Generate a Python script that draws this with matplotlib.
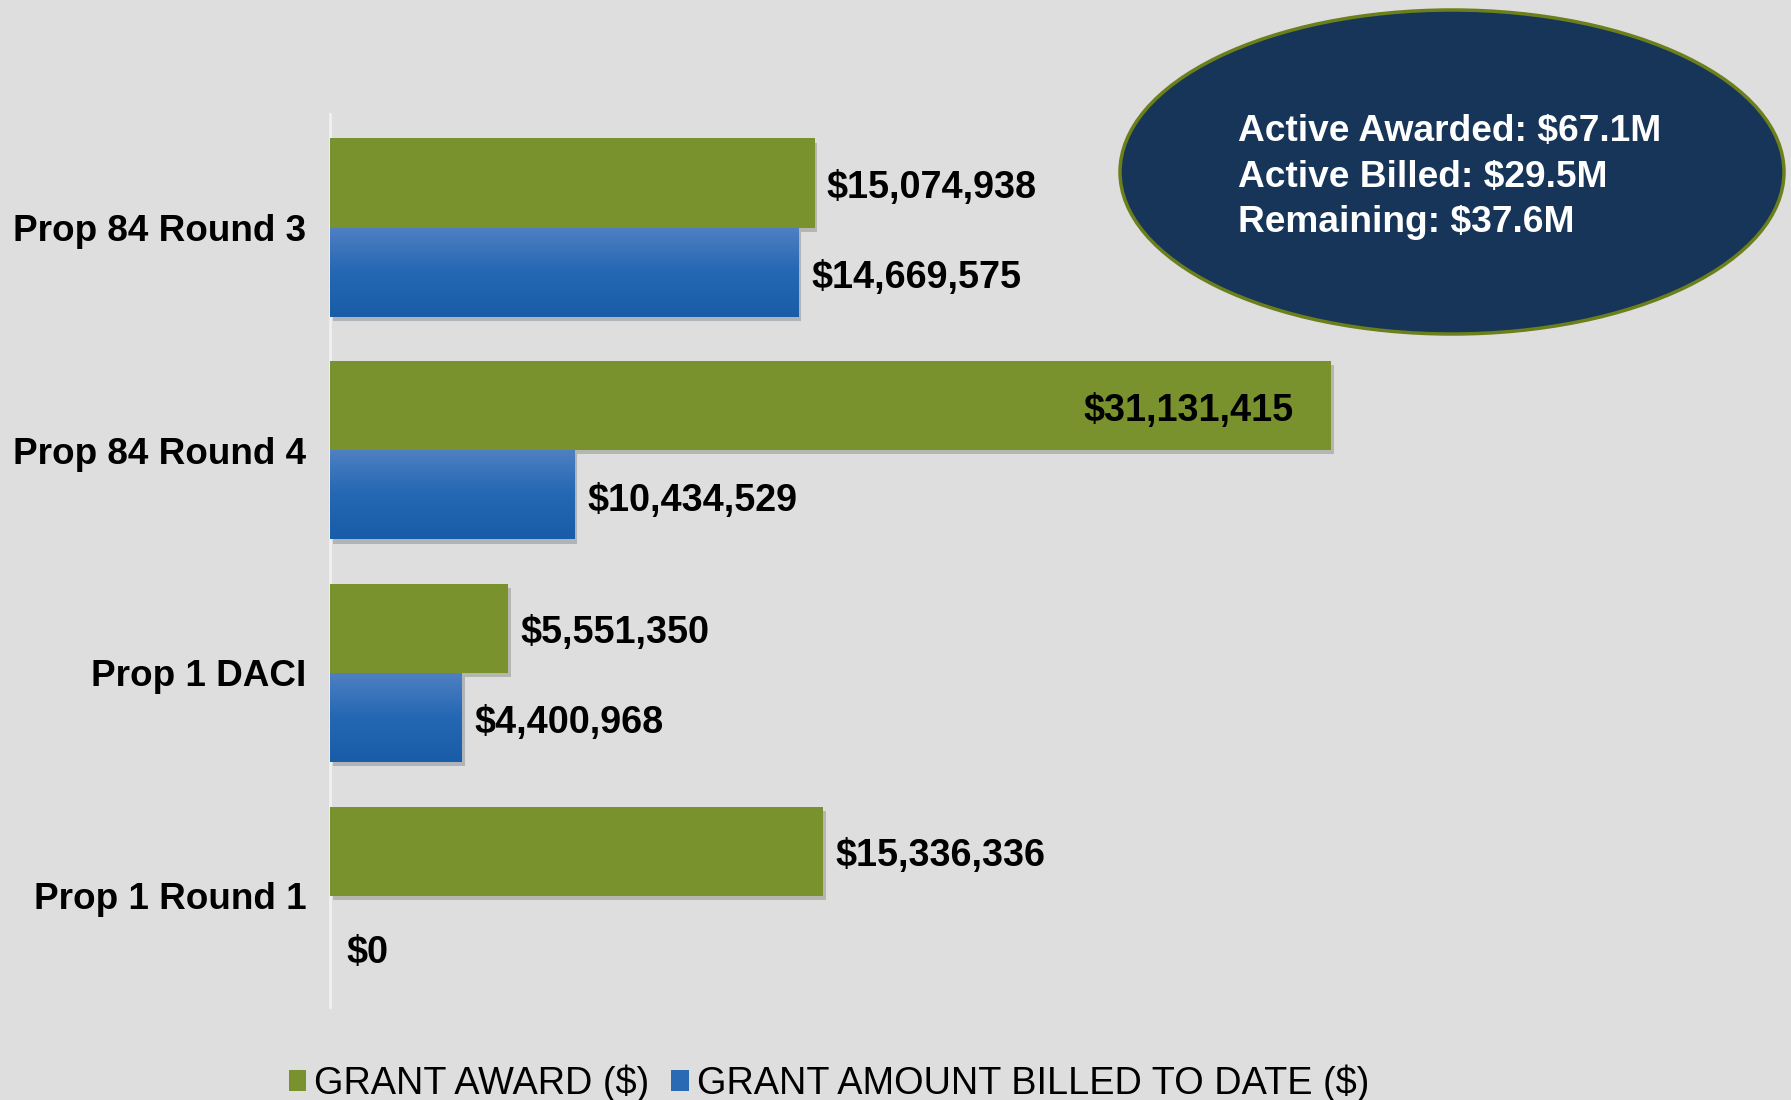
import matplotlib
matplotlib.use("Agg")
import matplotlib.pyplot as plt
import numpy as np
from matplotlib.patches import Ellipse, Patch
import matplotlib.patheffects as pe

plt.rcParams['font.family'] = ['Liberation Sans', 'DejaVu Sans']

# Data
categories = ["Prop 1 Round 1", "Prop 1 DACI", "Prop 84 Round 4", "Prop 84 Round 3"]
grant_award = [15336336, 5551350, 31131415, 15074938]
billed_labels = [0, 4400968, 10434529, 14669575]
# billed bar lengths as drawn in the picture (they don't match the labels exactly)
billed_bars = [0, 4.10e6, 7.59e6, 14.56e6]
legend_labels = ["GRANT AWARD ($)", "GRANT AMOUNT BILLED TO DATE ($)"]
summary = ["Active Awarded: $67.1M", "Active Billed: $29.5M", "Remaining: $37.6M"]

bg = "#dedede"
green = "#7a922d"
blue = "#2266b3"

fig = plt.figure(figsize=(17.91, 11), dpi=100, facecolor=bg)
ax = fig.add_axes([330 / 1791, 1 - 1007 / 1100, 1 - 330 / 1791, 893 / 1100])
ax.set_facecolor(bg)

y = np.arange(len(categories))
h = 0.4
shadow = [pe.SimplePatchShadow(offset=(2, -3), alpha=0.22), pe.Normal()]

gbars = ax.barh(y + h / 2, grant_award, height=h, color=green, zorder=3)
bbars = ax.barh(y - h / 2, billed_bars, height=h, color=blue, zorder=3)
for b in list(gbars) + list(bbars):
    b.set_path_effects(shadow)

# gradient on the blue bars
grad = np.linspace(0, 1, 100).reshape(-1, 1)
cmap = matplotlib.colors.LinearSegmentedColormap.from_list("b", ["#4f80c3", "#2467b3", "#195ca8"])
for b in bbars:
    if b.get_width() <= 0:
        continue
    im = ax.imshow(grad, cmap=cmap, aspect="auto", zorder=4,
                   extent=[b.get_x(), b.get_x() + b.get_width(), b.get_y(), b.get_y() + b.get_height()],
                   origin="upper")
    im.set_clip_path(b)

ax.set_xlim(0, 45.44e6)
ax.set_ylim(-0.5, 3.51)

# value labels
lab_font = dict(fontsize=27.2, fontweight="bold", color="black", va="center")
for b, v in zip(gbars, grant_award):
    cy = b.get_y() + b.get_height() / 2
    w = b.get_width()
    if v > 25e6:
        ax.annotate(f"${v:,}", (w, cy), xytext=(-37, -5), textcoords="offset pixels",
                    ha="right", zorder=6, **lab_font)
    else:
        ax.annotate(f"${v:,}", (w, cy), xytext=(12, -5), textcoords="offset pixels",
                    ha="left", zorder=6, **lab_font)
for b, v in zip(bbars, billed_labels):
    cy = b.get_y() + b.get_height() / 2
    w = b.get_width()
    off = 16 if v == 0 else 13
    dy = -13 if v == 0 else -6
    ax.annotate(f"${v:,}", (w, cy), xytext=(off, dy), textcoords="offset pixels",
                ha="left", zorder=6, **lab_font)

ax.set_yticks(y)
ax.set_yticklabels(categories, fontsize=26.6, fontweight="bold")
ax.tick_params(axis="y", length=0, pad=17)
ax.set_xticks([])
for s in ["top", "right", "bottom"]:
    ax.spines[s].set_visible(False)
ax.spines["left"].set_color("#f0f0f0")
ax.spines["left"].set_linewidth(2)

# summary ellipse
ell = Ellipse((1452 / 1791, 1 - 172 / 1100), 664 / 1791, 324 / 1100, transform=fig.transFigure,
              facecolor="#173559", edgecolor="#6b7f1a", linewidth=2.5, zorder=10)
fig.patches.append(ell)
for i, t in enumerate(summary):
    fig.text(1238 / 1791, 1 - (132 + 45 * i) / 1100, t, color="white", fontsize=26.7,
             fontweight="bold", ha="left", va="center", zorder=11)

# legend
handles = [Patch(facecolor=green), Patch(facecolor="#2a6ab5")]
fig.legend(handles, legend_labels, loc="center", bbox_to_anchor=(829 / 1791, 1 - 1083 / 1100),
           ncol=2, frameon=False, fontsize=27.3, handlelength=0.46, handleheight=0.46,
           handletextpad=0.21, columnspacing=0.58, borderpad=0)

fig.savefig("out.png", dpi=100, facecolor=bg)
